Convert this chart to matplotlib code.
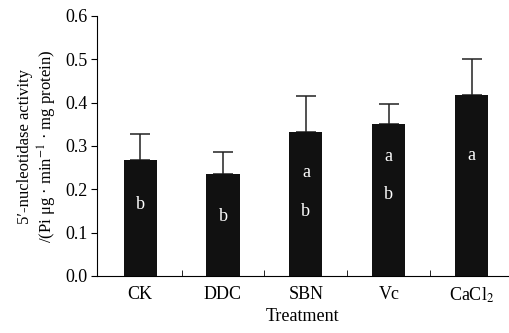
import matplotlib
matplotlib.use("Agg")
import matplotlib.pyplot as plt
import numpy as np

plt.rcParams.update({"font.family": ["Liberation Serif", "DejaVu Serif"],
                     "font.size": 13, "mathtext.fontset": "stix"})

treatments = ["CK", "DDC", "SBN", "Vc", "CaCl$_2$"]
activity = [0.268, 0.236, 0.333, 0.351, 0.417]
errors = [0.060, 0.050, 0.083, 0.046, 0.083]
letters = [["b"], ["b"], ["a", "b"], ["a", "b"], ["a"]]
letter_y = [[0.164], [0.137], [0.238, 0.148], [0.275, 0.187], [0.277]]

fig = plt.figure(figsize=(5.09, 3.33), dpi=100)
ax = fig.add_axes([97 / 509, 57 / 333, 412 / 509, 260 / 333])
x = np.arange(len(treatments))
ax.bar(x, activity, width=0.4, color="#111111", zorder=2)
ax.errorbar(x, activity, yerr=[np.zeros(len(x)), errors], fmt="none",
            ecolor="#222222", elinewidth=1.1, capsize=7, capthick=1.1, zorder=1)
for xi, labs, ys in zip(x, letters, letter_y):
    for lab, yy in zip(labs, ys):
        ax.text(xi, yy, lab, color="white", ha="center", va="center", fontsize=13, zorder=3)

ax.set_xlim(-0.52, 4.45)
ax.set_ylim(0, 0.6)
ax.set_yticks(np.arange(0, 0.61, 0.1))
ax.set_yticklabels([f"{v:.1f}" for v in np.arange(0, 0.61, 0.1)])
ax.set_xticks(x)
ax.set_xticklabels(treatments)
ax.tick_params(axis="x", length=0, pad=7)
ax.set_xticks(x[:-1] + 0.5, minor=True)
ax.tick_params(axis="x", which="minor", direction="in", length=4)
ax.tick_params(axis="y", direction="out", length=4, pad=3)
for s in ("top", "right"):
    ax.spines[s].set_visible(False)
ax.set_xlabel("Treatment", labelpad=2)
ax.set_ylabel("5\u2032-nucleotidase activity\n/(Pi \u03bcg \u00b7 min$^{-1}$ \u00b7 mg protein)",
              fontsize=12, labelpad=4, linespacing=1.2)
fig.savefig("out.png", dpi=100)
